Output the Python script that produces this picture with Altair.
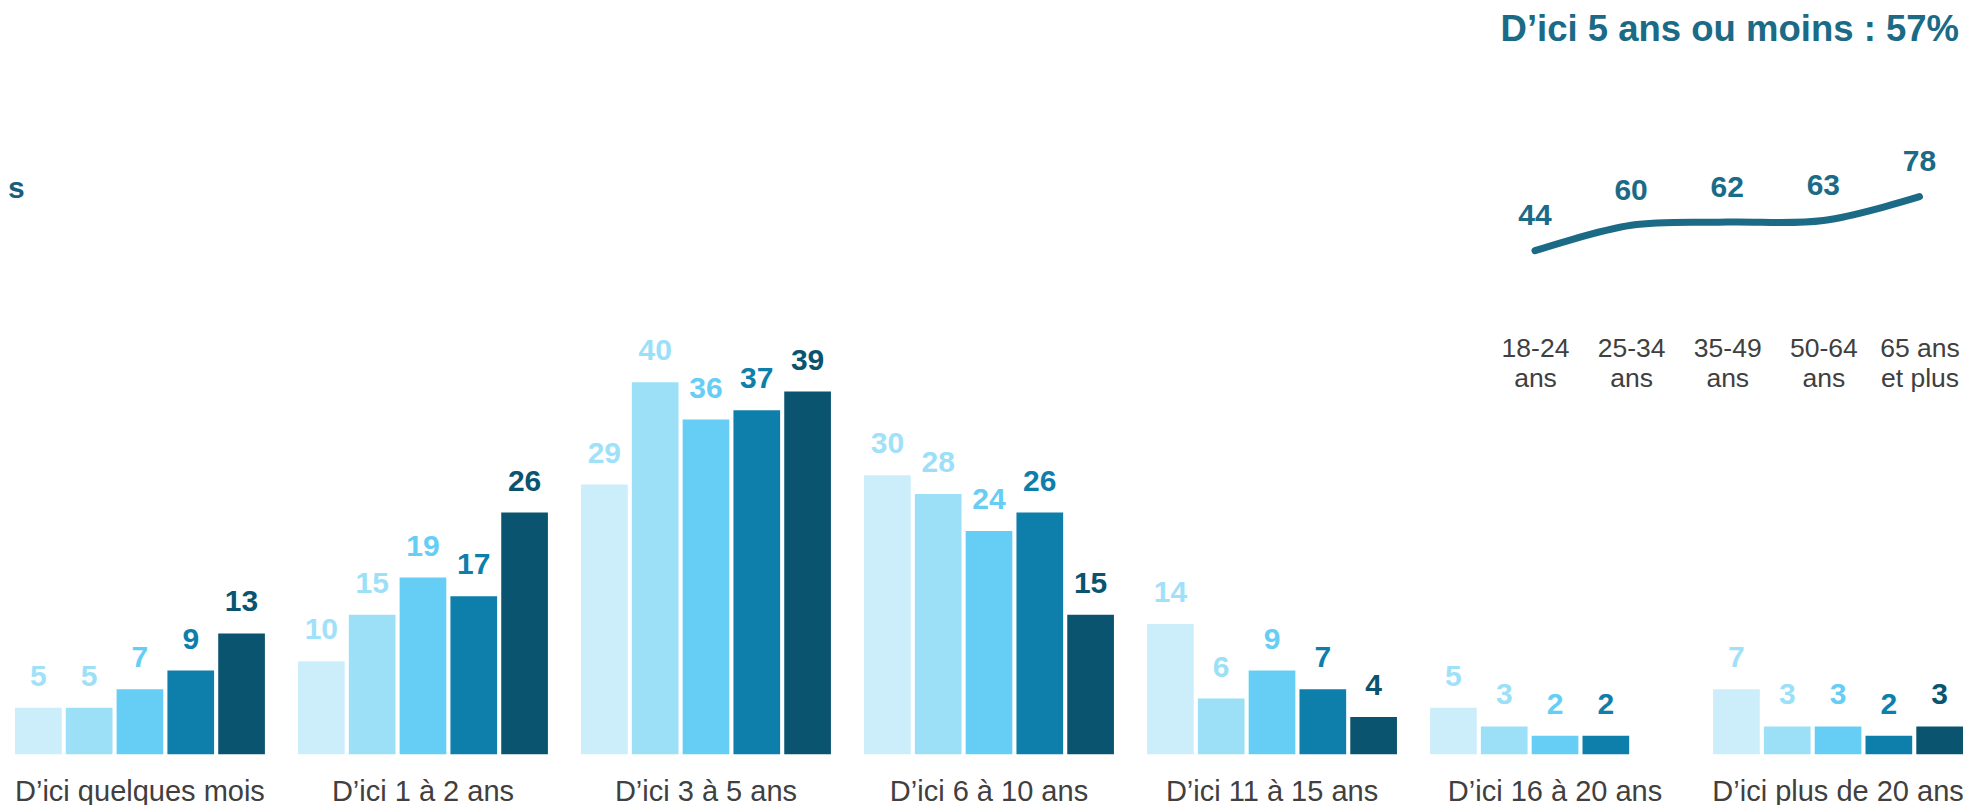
import altair as alt
import pandas as pd

FONT = "Liberation Sans"
TEAL = "#1B6A86"
DARK_TEXT = "#404040"

# ---- data ----
groups = [
    "D’ici quelques mois",
    "D’ici 1 à 2 ans",
    "D’ici 3 à 5 ans",
    "D’ici 6 à 10 ans",
    "D’ici 11 à 15 ans",
    "D’ici 16 à 20 ans",
    "D’ici plus de 20 ans",
]
ages = ["18-24 ans", "25-34 ans", "35-49 ans", "50-64 ans", "65 ans et plus"]
s_18_24 = [5, 10, 29, 30, 14, 5, 7]
s_25_34 = [5, 15, 40, 28, 6, 3, 3]
s_35_49 = [7, 19, 36, 24, 9, 2, 3]
s_50_64 = [9, 17, 37, 26, 7, 2, 2]
s_65_plus = [13, 26, 39, 15, 4, None, 3]

age_tick_labels = ["18-24|ans", "25-34|ans", "35-49|ans", "50-64|ans", "65 ans|et plus"]
five_years_or_less = [44, 60, 62, 63, 78]
title_text = "D’ici 5 ans ou moins : 57%"
cut_text = "s"

bar_colors = ["#CCEEFA", "#9CE0F8", "#66CEF4", "#0E7EAB", "#0B546F"]
label_colors = ["#9FE1F9", "#9CE0F8", "#66CEF4", "#0E7EAB", "#0B546F"]

series_values = [s_18_24, s_25_34, s_35_49, s_50_64, s_65_plus]
rows = []
for si, (age, vals) in enumerate(zip(ages, series_values)):
    for g, v in zip(groups, vals):
        if v is None:
            continue
        rows.append({"group": g, "series": age, "value": v, "lc": label_colors[si]})
bar_df = pd.DataFrame(rows)

line_df = pd.DataFrame({"age_label": age_tick_labels, "value": five_years_or_less})

# ---- bars ----
bx = alt.X(
    "group:N",
    sort=groups,
    scale=alt.Scale(range=[7, 1955], paddingInner=0.117, paddingOuter=0),
    axis=alt.Axis(
        orient="bottom", offset=-5, title=None, domain=False, ticks=False, tickSize=0,
        labelPadding=0, labelBaseline="alphabetic", labelFontSize=29, labelFont=FONT,
        labelColor=DARK_TEXT, labelLimit=600, labelOverlap=False, labelAngle=0,
    ),
)
bxo = alt.XOffset("series:N", sort=ages, scale=alt.Scale(paddingInner=0.081, paddingOuter=0))
by = alt.Y("value:Q", scale=alt.Scale(domain=[0, 40], range=[746.3, 374.3]), axis=None)

bars = alt.Chart(bar_df).mark_bar().encode(
    x=bx, xOffset=bxo, y=by,
    color=alt.Color("series:N", scale=alt.Scale(domain=ages, range=bar_colors), legend=None),
)
bar_labels = alt.Chart(bar_df).mark_text(
    font=FONT, fontSize=30, fontWeight="bold", baseline="alphabetic", dy=-22
).encode(
    x=bx, xOffset=bxo, y=by, text="value:Q",
    color=alt.Color("lc:N", scale=None),
)
bar_part = alt.layer(bars, bar_labels)

# ---- line ----
lx = alt.X(
    "age_label:N",
    sort=age_tick_labels,
    scale=alt.Scale(type="point", range=[1527, 1911.5], padding=0),
    axis=alt.Axis(
        orient="bottom", offset=-448.3, title=None, domain=False, ticks=False, tickSize=0,
        labelPadding=0, labelBaseline="alphabetic", labelFontSize=26.5, labelFont=FONT,
        labelColor=DARK_TEXT, labelLimit=300, labelOverlap=False, labelAngle=0,
        labelExpr="split(datum.label, '|')", labelLineHeight=30,
    ),
)
ly = alt.Y("value:Q", scale=alt.Scale(domain=[44, 78], range=[242.7, 188.7], zero=False), axis=None)

line = alt.Chart(line_df).mark_line(
    interpolate="catmull-rom", strokeWidth=7, strokeCap="round", color=TEAL
).encode(x=lx, y=ly)
line_labels = alt.Chart(line_df).mark_text(
    font=FONT, fontSize=30, fontWeight="bold", baseline="alphabetic", dy=-25.5, color=TEAL
).encode(x=lx, y=ly, text="value:Q")
line_part = alt.layer(line, line_labels)

# ---- annotations ----
title = alt.Chart(pd.DataFrame({"t": [title_text]})).mark_text(
    font=FONT, fontSize=36.5, fontWeight="bold", align="right", baseline="alphabetic", color=TEAL
).encode(x=alt.value(1951), y=alt.value(33), text="t:N")

cut = alt.Chart(pd.DataFrame({"t": [cut_text]})).mark_text(
    font=FONT, fontSize=30, fontWeight="bold", align="left", baseline="alphabetic", color="#175F7D"
).encode(x=alt.value(0), y=alt.value(189.7), text="t:N")

chart = alt.layer(bar_part, line_part, title, cut).resolve_scale(
    x="independent", y="independent"
).properties(
    width=1955, height=797, padding=0, autosize=alt.AutoSizeParams(type="none")
).configure_view(stroke=None)

chart.save("out.html", embed_options={"renderer": "svg", "actions": False})
